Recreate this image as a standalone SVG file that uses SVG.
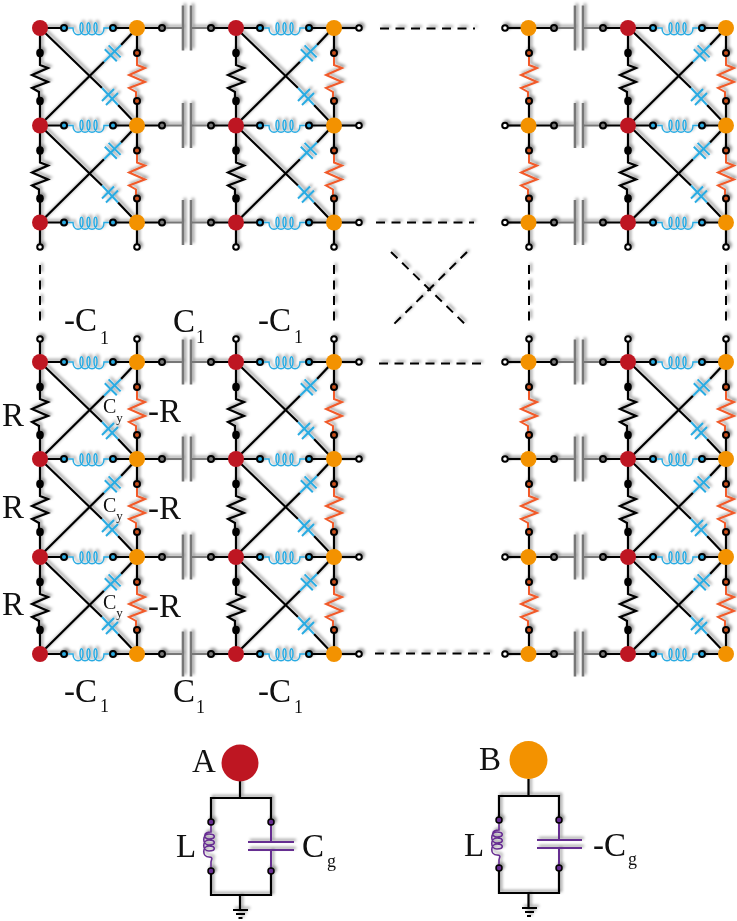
<svg xmlns="http://www.w3.org/2000/svg" width="737" height="921" viewBox="0 0 737 921">
<style>
text{font-family:"Liberation Serif","Times New Roman",serif;fill:#111}
.big{font-size:33px}.sub{font-size:18px}.cy{font-size:20px}.suby{font-size:13px}
.w{stroke:#000;stroke-width:2.200;fill:none}
.g{stroke:#777;stroke-width:2;fill:none}
.gp{stroke:#777;stroke-width:2.600;fill:none}
.bl{stroke:#29abe2;stroke-width:2;fill:none}
.blc{stroke:#29abe2;stroke-width:1.500;fill:none}
.or{stroke:#f15a29;stroke-width:2;fill:none}
.pu{stroke:#662d91;stroke-width:1.600;fill:none}
.pp{stroke:#662d91;stroke-width:2;fill:none}
.d{stroke:#000;stroke-width:2;fill:none;stroke-dasharray:9 6.500}
.red{fill:#be1622}.ora{fill:#f39200}
.open{fill:#fff;stroke:#000;stroke-width:2}
.db{fill:#29abe2;stroke:#000;stroke-width:2}
.dg{fill:#777;stroke:#000;stroke-width:2}
.do{fill:#c8501e;stroke:#000;stroke-width:2}
.dk{fill:#000}
.dp{fill:#662d91;stroke:#000;stroke-width:1.500}
</style>
<defs>
<filter id="sh" x="-5%" y="-5%" width="110%" height="110%">
<feDropShadow dx="2" dy="-2" stdDeviation="1.800" flood-color="#000" flood-opacity="0.420"/>
</filter>
<path id="coil" d="M-8 0H0C0 9 10 9 10 0C10-7 7-7 7 0C7 9 17 9 17 0C17-7 14-7 14 0C14 9 24 9 24 0C24-7 21-7 21 0C21 9 31 9 31 0H38"/>
<g id="hL">
<path class="w" d="M0 0H24M73 0H97"/>
<use href="#coil" x="33" class="blc"/>
<circle class="db" cx="24" cy="0" r="3"/><circle class="db" cx="73" cy="0" r="3"/>
</g>
<g id="hC">
<path class="w" d="M0 0H25M74 0H99"/>
<path class="g" d="M25 0H46M54 0H74"/>
<path class="gp" d="M46-22.500V22.500M54-22.500V22.500"/>
<circle class="dg" cx="25" cy="0" r="3"/><circle class="dg" cx="74" cy="0" r="3"/>
</g>
<g id="vP">
<path class="w" d="M0 0V25M0 73V97M0 28V37L8 40L-8 47L8 54L-8 60L-1 64V70"/>
<ellipse class="dk" cx="0" cy="25" rx="3.800" ry="4.200"/><ellipse class="dk" cx="0" cy="73" rx="3.800" ry="4.200"/>
</g>
<g id="vN">
<path class="w" d="M0 0V25M0 73V97"/>
<path class="or" d="M0 28V37L8 40L-8 47L8 54L-8 60L-1 64V70"/>
<circle class="do" cx="0" cy="25" r="3"/><circle class="do" cx="0" cy="73" r="3"/>
</g>
<g id="cross">
<path class="w" d="M0 0L62 60M78 77L97 97M0 97L64 33.700M81 17L97 0"/>
<path class="bl" d="M62 60L78 77M64 33.700L81 17M62 73L74 61M66 77L78 65M64.800 21.200L76.800 33.200M68.600 17.400L80.600 29.400"/>
</g>
<g id="stub"><path class="w" d="M0 0V24"/><circle class="open" cx="0" cy="24.500" r="2.800"/></g>
<g id="stubU"><path class="w" d="M0 0V-23"/><circle class="open" cx="0" cy="-23" r="2.800"/></g>
<g id="stubR"><path class="w" d="M0 0H25"/><circle class="open" cx="25" cy="0" r="2.800"/></g>
<g id="stubL"><path class="w" d="M0 0H-23"/><circle class="open" cx="-23" cy="0" r="2.800"/></g>
</defs>
<g id="connectors" filter="url(#sh)">
<use href="#hL" x="40" y="28"/><use href="#hL" x="236" y="28"/><use href="#hL" x="629" y="28"/>
<use href="#hL" x="40" y="125.500"/><use href="#hL" x="236" y="125.500"/><use href="#hL" x="629" y="125.500"/>
<use href="#hL" x="40" y="222.500"/><use href="#hL" x="236" y="222.500"/><use href="#hL" x="629" y="222.500"/>
<use href="#hL" x="40" y="362"/><use href="#hL" x="236" y="362"/><use href="#hL" x="629" y="362"/>
<use href="#hL" x="40" y="459"/><use href="#hL" x="236" y="459"/><use href="#hL" x="629" y="459"/>
<use href="#hL" x="40" y="557"/><use href="#hL" x="236" y="557"/><use href="#hL" x="629" y="557"/>
<use href="#hL" x="40" y="654"/><use href="#hL" x="236" y="654"/><use href="#hL" x="629" y="654"/>
<use href="#hC" x="137" y="28"/><use href="#hC" x="529" y="28"/>
<use href="#hC" x="137" y="125.500"/><use href="#hC" x="529" y="125.500"/>
<use href="#hC" x="137" y="222.500"/><use href="#hC" x="529" y="222.500"/>
<use href="#hC" x="137" y="362"/><use href="#hC" x="529" y="362"/>
<use href="#hC" x="137" y="459"/><use href="#hC" x="529" y="459"/>
<use href="#hC" x="137" y="557"/><use href="#hC" x="529" y="557"/>
<use href="#hC" x="137" y="654"/><use href="#hC" x="529" y="654"/>
<use href="#vP" x="40" y="28"/><use href="#vP" x="236" y="28"/><use href="#vP" x="628" y="28"/>
<use href="#vP" x="40" y="125.500"/><use href="#vP" x="236" y="125.500"/><use href="#vP" x="628" y="125.500"/>
<use href="#vP" x="40" y="362"/><use href="#vP" x="236" y="362"/><use href="#vP" x="628" y="362"/>
<use href="#vP" x="40" y="459"/><use href="#vP" x="236" y="459"/><use href="#vP" x="628" y="459"/>
<use href="#vP" x="40" y="557"/><use href="#vP" x="236" y="557"/><use href="#vP" x="628" y="557"/>
<use href="#vN" x="137" y="28"/><use href="#vN" x="334" y="28"/><use href="#vN" x="529" y="28"/><use href="#vN" x="726" y="28"/>
<use href="#vN" x="137" y="125.500"/><use href="#vN" x="334" y="125.500"/><use href="#vN" x="529" y="125.500"/><use href="#vN" x="726" y="125.500"/>
<use href="#vN" x="137" y="362"/><use href="#vN" x="334" y="362"/><use href="#vN" x="529" y="362"/><use href="#vN" x="726" y="362"/>
<use href="#vN" x="137" y="459"/><use href="#vN" x="334" y="459"/><use href="#vN" x="529" y="459"/><use href="#vN" x="726" y="459"/>
<use href="#vN" x="137" y="557"/><use href="#vN" x="334" y="557"/><use href="#vN" x="529" y="557"/><use href="#vN" x="726" y="557"/>
<use href="#cross" x="40" y="28"/><use href="#cross" x="236" y="28"/><use href="#cross" x="629" y="28"/>
<use href="#cross" x="40" y="125.500"/><use href="#cross" x="236" y="125.500"/><use href="#cross" x="629" y="125.500"/>
<use href="#cross" x="40" y="362"/><use href="#cross" x="236" y="362"/><use href="#cross" x="629" y="362"/>
<use href="#cross" x="40" y="459"/><use href="#cross" x="236" y="459"/><use href="#cross" x="629" y="459"/>
<use href="#cross" x="40" y="557"/><use href="#cross" x="236" y="557"/><use href="#cross" x="629" y="557"/>
<use href="#stub" x="40" y="222.500"/><use href="#stub" x="137" y="222.500"/><use href="#stub" x="236" y="222.500"/><use href="#stub" x="334" y="222.500"/><use href="#stub" x="529" y="222.500"/><use href="#stub" x="628" y="222.500"/><use href="#stub" x="726" y="222.500"/>
<use href="#stubU" x="40" y="362"/><use href="#stubU" x="137" y="362"/><use href="#stubU" x="236" y="362"/><use href="#stubU" x="334" y="362"/><use href="#stubU" x="529" y="362"/><use href="#stubU" x="628" y="362"/><use href="#stubU" x="726" y="362"/>
<use href="#stubR" x="334" y="28"/><use href="#stubR" x="334" y="125.500"/><use href="#stubR" x="334" y="222.500"/><use href="#stubR" x="334" y="362"/><use href="#stubR" x="334" y="459"/><use href="#stubR" x="334" y="557"/><use href="#stubR" x="334" y="654"/>
<use href="#stubL" x="528" y="28"/><use href="#stubL" x="528" y="125.500"/><use href="#stubL" x="528" y="222.500"/><use href="#stubL" x="528" y="362"/><use href="#stubL" x="528" y="459"/><use href="#stubL" x="528" y="557"/><use href="#stubL" x="528" y="654"/>
<path class="d" d="M380 28.500H475M376 222.500H474M379 363.500H483M375 653.500H490"/>
<path class="d" d="M40 265V326M334 265V326M529 265V326M726 265V326"/>
<path class="d" d="M391 252L468 327M467 252L390 328"/>
<!-- A circuit -->
<path class="w" d="M240 781V798M211 822V798H271V822M211 871V895H271V871M240 895V910M233 910H248M236 914H245M238.500 918H242.500"/>
<path class="pp" d="M271 822V842M271 850V871M248 842H294M248 850H294"/>
<path class="pu" d="M211 822V832C203 832 203 839 209 839C216 839 216 834 209 834C202 834 202 845 209 845C216 845 216 840 209 840C202 840 202 851 209 851C216 851 216 846 209 846C202 846 202 857 209 857C214 857 211 860 211 862V871"/>
<circle class="dp" cx="211" cy="822" r="3"/><circle class="dp" cx="271" cy="822" r="3"/><circle class="dp" cx="211" cy="871" r="3"/><circle class="dp" cx="271" cy="871" r="3"/>
<!-- B circuit -->
<path class="w" d="M528.500 779V796M499 820V796H559V820M499 868V893H559V868M528.500 893V908M522 908H537M525 912H534M527 916H531"/>
<path class="pp" d="M559 820V840M559 848V868M537 840H582M537 848H582"/>
<path class="pu" d="M499 820V830C491 830 491 837 497 837C504 837 504 832 497 832C490 832 490 843 497 843C504 843 504 838 497 838C490 838 490 849 497 849C504 849 504 844 497 844C490 844 490 855 497 855C502 855 499 858 499 860V868"/>
<circle class="dp" cx="499" cy="820" r="3"/><circle class="dp" cx="559" cy="820" r="3"/><circle class="dp" cx="499" cy="868" r="3"/><circle class="dp" cx="559" cy="868" r="3"/>
</g>
<g id="a1"><circle class="red" cx="40" cy="28" r="8"/></g><g id="b1"><circle class="ora" cx="137" cy="28" r="8"/></g><g id="a2"><circle class="red" cx="236" cy="28" r="8"/></g><g id="b2"><circle class="ora" cx="334" cy="28" r="8"/></g><g id="b3"><circle class="ora" cx="528.500" cy="28" r="8"/></g><g id="a3"><circle class="red" cx="628" cy="28" r="8"/></g><g id="b4"><circle class="ora" cx="726" cy="28" r="8"/></g>
<g id="a5"><circle class="red" cx="40" cy="125.500" r="8"/></g><g id="b5"><circle class="ora" cx="137" cy="125.500" r="8"/></g><g id="a6"><circle class="red" cx="236" cy="125.500" r="8"/></g><g id="b6"><circle class="ora" cx="334" cy="125.500" r="8"/></g><g id="b7"><circle class="ora" cx="528.500" cy="125.500" r="8"/></g><g id="a7"><circle class="red" cx="628" cy="125.500" r="8"/></g><g id="b8"><circle class="ora" cx="726" cy="125.500" r="8"/></g>
<g id="a9"><circle class="red" cx="40" cy="222.500" r="8"/></g><g id="b9"><circle class="ora" cx="137" cy="222.500" r="8"/></g><g id="a10"><circle class="red" cx="236" cy="222.500" r="8"/></g><g id="b10"><circle class="ora" cx="334" cy="222.500" r="8"/></g><g id="b11"><circle class="ora" cx="528.500" cy="222.500" r="8"/></g><g id="a11"><circle class="red" cx="628" cy="222.500" r="8"/></g><g id="b12"><circle class="ora" cx="726" cy="222.500" r="8"/></g>
<g id="a13"><circle class="red" cx="40" cy="362" r="8"/></g><g id="b13"><circle class="ora" cx="137" cy="362" r="8"/></g><g id="a14"><circle class="red" cx="236" cy="362" r="8"/></g><g id="b14"><circle class="ora" cx="334" cy="362" r="8"/></g><g id="b15"><circle class="ora" cx="528.500" cy="362" r="8"/></g><g id="a15"><circle class="red" cx="628" cy="362" r="8"/></g><g id="b16"><circle class="ora" cx="726" cy="362" r="8"/></g>
<g id="a17"><circle class="red" cx="40" cy="459" r="8"/></g><g id="b17"><circle class="ora" cx="137" cy="459" r="8"/></g><g id="a18"><circle class="red" cx="236" cy="459" r="8"/></g><g id="b18"><circle class="ora" cx="334" cy="459" r="8"/></g><g id="b19"><circle class="ora" cx="528.500" cy="459" r="8"/></g><g id="a19"><circle class="red" cx="628" cy="459" r="8"/></g><g id="b20"><circle class="ora" cx="726" cy="459" r="8"/></g>
<g id="a21"><circle class="red" cx="40" cy="557" r="8"/></g><g id="b21"><circle class="ora" cx="137" cy="557" r="8"/></g><g id="a22"><circle class="red" cx="236" cy="557" r="8"/></g><g id="b22"><circle class="ora" cx="334" cy="557" r="8"/></g><g id="b23"><circle class="ora" cx="528.500" cy="557" r="8"/></g><g id="a23"><circle class="red" cx="628" cy="557" r="8"/></g><g id="b24"><circle class="ora" cx="726" cy="557" r="8"/></g>
<g id="a25"><circle class="red" cx="40" cy="654" r="8"/></g><g id="b25"><circle class="ora" cx="137" cy="654" r="8"/></g><g id="a26"><circle class="red" cx="236" cy="654" r="8"/></g><g id="b26"><circle class="ora" cx="334" cy="654" r="8"/></g><g id="b27"><circle class="ora" cx="528.500" cy="654" r="8"/></g><g id="a27"><circle class="red" cx="628" cy="654" r="8"/></g><g id="b28"><circle class="ora" cx="726" cy="654" r="8"/></g>
<g id="nodeA"><circle class="red" cx="240" cy="763" r="18.500"/><text class="big" x="192" y="772">A</text></g>
<g id="nodeB"><circle class="ora" cx="528.500" cy="760" r="19"/><text class="big" x="479" y="770">B</text></g>
<g id="labels">
<text class="big" x="64" y="331">-C<tspan class="sub" dy="13" dx="3">1</tspan></text>
<text class="big" x="173" y="332">C<tspan class="sub" dy="11" dx="1">1</tspan></text>
<text class="big" x="258" y="331">-C<tspan class="sub" dy="12" dx="3">1</tspan></text>
<text class="big" x="64" y="702">-C<tspan class="sub" dy="10" dx="3">1</tspan></text>
<text class="big" x="173" y="702">C<tspan class="sub" dy="11" dx="1">1</tspan></text>
<text class="big" x="258" y="702">-C<tspan class="sub" dy="11" dx="3">1</tspan></text>
<text class="big" x="2" y="426">R</text><text class="big" x="2" y="518">R</text><text class="big" x="2" y="615">R</text>
<text class="big" x="148" y="422">-R</text><text class="big" x="148" y="519">-R</text><text class="big" x="148" y="617">-R</text>
<text class="cy" x="103" y="413">C<tspan class="suby" dy="9">y</tspan></text>
<text class="cy" x="103" y="512">C<tspan class="suby" dy="8">y</tspan></text>
<text class="cy" x="103" y="609">C<tspan class="suby" dy="8">y</tspan></text>
<text class="big" x="176" y="857">L</text>
<text class="big" x="302" y="857">C<tspan class="sub" dy="10" dx="3">g</tspan></text>
<text class="big" x="464" y="856">L</text>
<text class="big" x="593" y="856">-C<tspan class="sub" dy="9" dx="2">g</tspan></text>
</g>
</svg>
